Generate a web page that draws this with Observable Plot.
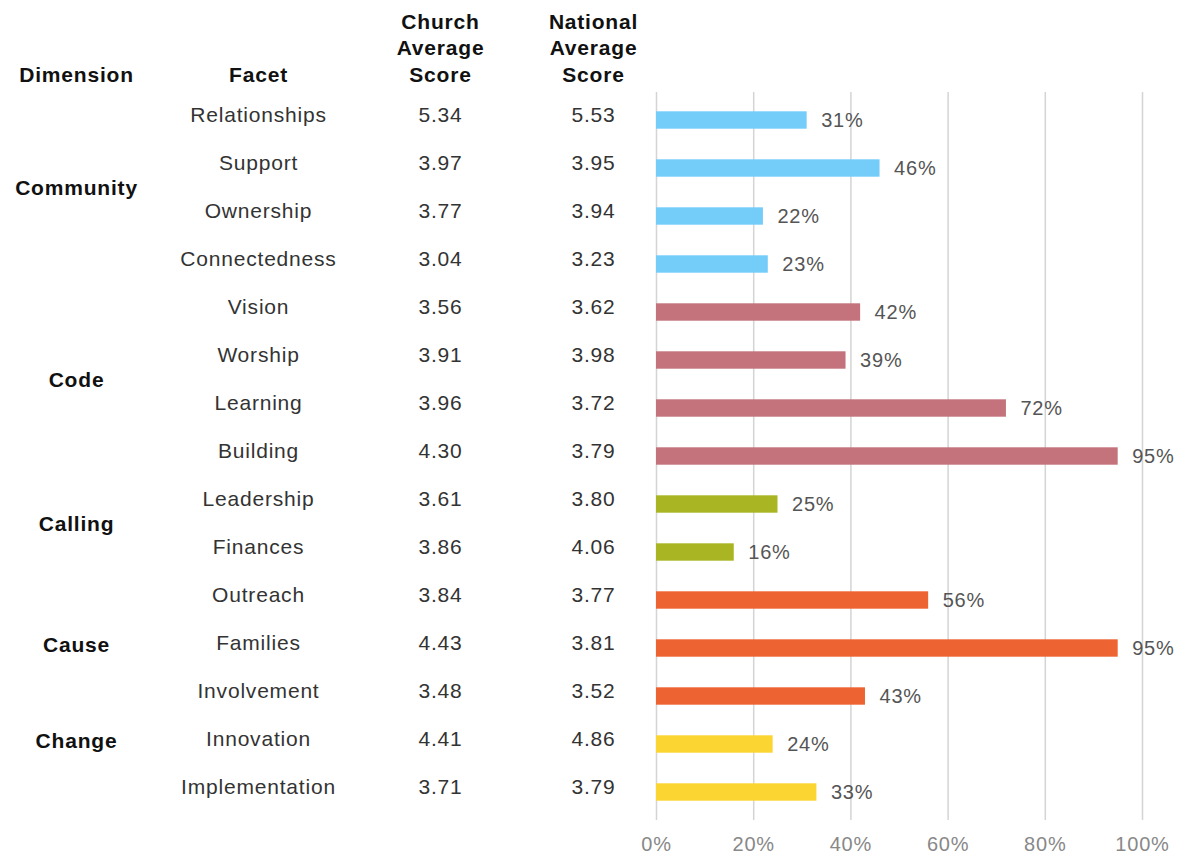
<!DOCTYPE html>
<html>
<head>
<meta charset="utf-8">
<script src="https://cdn.jsdelivr.net/npm/d3@7"></script>
<script src="https://cdn.jsdelivr.net/npm/@observablehq/plot@0.6"></script>
<style>
  html, body { margin: 0; padding: 0; background: #fff; }
  #chart svg { display: block; }
  #chart svg text { letter-spacing: 0.8px; }
</style>
</head>
<body>
<div id="chart"></div>
<script>
// ---- data ----
const facets = ["Relationships","Support","Ownership","Connectedness","Vision","Worship","Learning","Building","Leadership","Finances","Outreach","Families","Involvement","Innovation","Implementation"];
const facetDimension = ["Community","Community","Community","Community","Code","Code","Code","Code","Calling","Calling","Cause","Cause","Cause","Change","Change"];
const churchScore = [5.34,3.97,3.77,3.04,3.56,3.91,3.96,4.30,3.61,3.86,3.84,4.43,3.48,4.41,3.71];
const nationalScore = [5.53,3.95,3.94,3.23,3.62,3.98,3.72,3.79,3.80,4.06,3.77,3.81,3.52,4.86,3.79];
const percentile = [31,46,22,23,42,39,72,95,25,16,56,95,43,24,33];

const dimensions = ["Community","Code","Calling","Cause","Change"];
const dimensionColors = ["#74cdf9","#c4737d","#a9b523","#ed6432","#fbd532"];
const dimensionLabelFacet = ["Support","Worship","Leadership","Families","Innovation"];
const dimensionLabelHalfRow = [true,true,true,false,false];

const headers = ["Dimension","Facet","Church\nAverage\nScore","National\nAverage\nScore"];
const xTicks = [0,0.2,0.4,0.6,0.8,1.0];

// ---- layout ----
const W = 1185, H = 857;
const mTop = 92, mBottom = 37, mLeft = 656, mRight = 43;
const rowStep = (H - mTop - mBottom) / facets.length;
const colDx = [-580, -398, -216, -63]; // column centres relative to the plot frame's left edge
const font = "'Liberation Sans', Arial, Helvetica, sans-serif";

const rows = facets.map((f, i) => ({
  facet: f,
  dimension: facetDimension[i],
  church: churchScore[i],
  national: nationalScore[i],
  pct: percentile[i] / 100
}));
const dimLabels = dimensions.map((d, i) => ({dimension: d, facet: dimensionLabelFacet[i], half: dimensionLabelHalfRow[i]}));
const headerRows = headers.map((h, i) => ({text: h, col: i}));

const headerMarks = headerRows.map(h =>
  Plot.text([h], {
    text: "text", frameAnchor: "top-left", textAnchor: "middle", dx: colDx[h.col], dy: -11,
    lineAnchor: "bottom", lineHeight: 1.26,
    fontSize: 21, fontWeight: "bold", fill: "#111"
  })
);

const tableText = (field, col, fmt) => Plot.text(rows, {
  y: "facet", text: d => fmt ? fmt(d[field]) : d[field],
  frameAnchor: "left", textAnchor: "middle", dx: colDx[col], dy: -5,
  fontSize: 21, fill: "#333"
});

const chart = Plot.plot({
  width: W, height: H,
  marginTop: mTop, marginBottom: mBottom, marginLeft: mLeft, marginRight: mRight,
  style: {fontFamily: font, background: "#fff"},
  x: {domain: [0, 1], ticks: xTicks, tickFormat: d3.format(".0%"), label: null, tickSize: 0, tickPadding: 16},
  y: {domain: facets, padding: 0, axis: null},
  color: {domain: dimensions, range: dimensionColors},
  marks: [
    Plot.ruleX(xTicks, {stroke: "#d4d4d4", strokeWidth: 1.5}),
    Plot.barX(rows, {y: "facet", x: "pct", fill: "dimension", insetTop: 15.3, insetBottom: 15.3}),
    Plot.text(rows, {y: "facet", x: "pct", text: d => Math.round(d.pct * 100) + "%", textAnchor: "start", dx: 14, fontSize: 20, fill: "#555"}),
    tableText("facet", 1),
    tableText("church", 2, v => v.toFixed(2)),
    tableText("national", 3, v => v.toFixed(2)),
    Plot.text(dimLabels.filter(d => d.half), {y: "facet", text: "dimension", frameAnchor: "left", textAnchor: "middle", dx: colDx[0], dy: rowStep / 2 - 5, fontSize: 21, fontWeight: "bold", fill: "#111"}),
    Plot.text(dimLabels.filter(d => !d.half), {y: "facet", text: "dimension", frameAnchor: "left", textAnchor: "middle", dx: colDx[0], dy: -3, fontSize: 21, fontWeight: "bold", fill: "#111"}),
    ...headerMarks,
    Plot.axisX({ticks: xTicks, tickFormat: d3.format(".0%"), tickSize: 0, tickPadding: 16, fontSize: 20, color: "#888", label: null})
  ]
});
document.getElementById("chart").appendChild(chart);
</script>
</body>
</html>
